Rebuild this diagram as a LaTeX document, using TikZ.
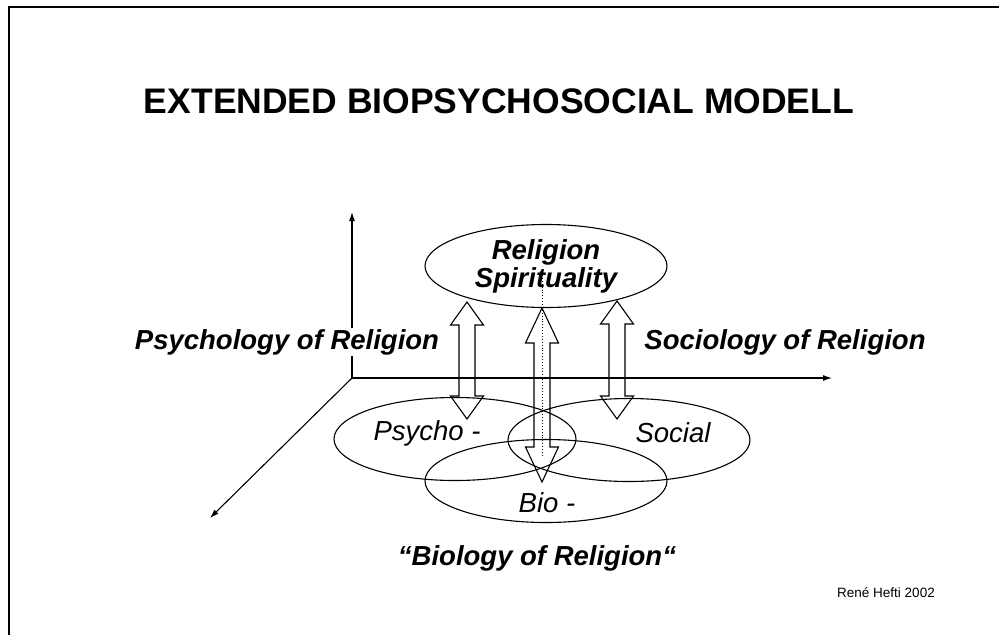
\documentclass[tikz,border=0pt]{standalone}
\usepackage{fontspec}
\setmainfont{Liberation Sans}
\usepackage{tikz}
\usetikzlibrary{arrows.meta, calc, shapes.geometric}
\newcommand{\bigtext}{\fontsize{27.5}{28}\selectfont}
% open double arrow: top tip, bottom tip, head length
\newcommand{\hollowarrow}[3]{%
	\draw (#1) -- ($(#1)+(16.5,#3)$) -- ($(#1)+(8,#3)$)
		-- ($(#2)+(8,-#3)$) -- ($(#2)+(16.5,-#3)$) -- (#2)
		-- ($(#2)+(-16.5,-#3)$) -- ($(#2)+(-8,-#3)$)
		-- ($(#1)+(-8,#3)$) -- ($(#1)+(-16.5,#3)$) -- cycle;}

\begin{document}
\begin{tikzpicture}[
				x=1pt, y=-1pt,
				>={Latex[length=9pt,width=6pt]},
				line width=1.1pt,
				sphere/.style={draw, ellipse, minimum width=242pt, minimum height=83pt, inner sep=0pt},
				axislabel/.style={font=\bfseries\itshape\bigtext, fill=white, inner sep=1pt},
				spherelabel/.style={font=\itshape\bigtext}]

			\useasboundingbox (0,0) rectangle (999,635);
			\draw[line width=2.2pt] (9,635) -- (9,7) -- (999,7);

			\node[font=\bfseries\fontsize{35.5}{38}\selectfont] (title) at (499,101) {EXTENDED BIOPSYCHOSOCIAL MODELL};

			% axes
			\coordinate (origin) at (352,378);
			\coordinate (up_end) at (352,212);
			\coordinate (right_end) at (832,378);
			\coordinate (down_end) at (210,518);
			\draw[->] (origin) -- (up_end);
			\draw[->] (origin) -- (right_end);
			\draw[->] (origin) -- (down_end);

			% spheres
			\node[sphere, align=center, font=\bfseries\itshape\bigtext] (religion) at (546,266) {Religion\\Spirituality};
			\node[sphere] (psycho) at (455,439) {};
			\node[sphere] (social) at (629,440) {};
			\node[sphere] (bio) at (546,481) {};

			\node[spherelabel] (psycho_text) at (427,433) {Psycho -};
			\node[spherelabel] (social_text) at (673,433) {Social};
			\node[spherelabel] (bio_text) at (547,503) {Bio -};

			% interaction arrows
			\coordinate (left_top) at (467,302);
			\coordinate (left_bot) at (467,419);
			\coordinate (mid_top) at (542,308);
			\coordinate (mid_bot) at (542,482);
			\coordinate (right_top) at (617,301);
			\coordinate (right_bot) at (617,419);
			\hollowarrow{left_top}{left_bot}{23}
			\hollowarrow{mid_top}{mid_bot}{35}
			\hollowarrow{right_top}{right_bot}{23}

			\coordinate (dot_top) at (542,275);
			\coordinate (dot_bot) at (542,455);
			\draw[dotted, line width=0.9pt] (dot_top) -- (dot_bot);

			% labels
			\node[axislabel] (psy_rel) at (287,342) {Psychology of Religion};
			\node[axislabel] (soc_rel) at (785,342) {Sociology of Religion};
			\node[axislabel] (bio_rel) at (537,558) {“Biology of Religion“};
			\node[font=\fontsize{13.5}{16}\selectfont] (author) at (886,593) {René Hefti 2002};
		\end{tikzpicture}
\end{document}
